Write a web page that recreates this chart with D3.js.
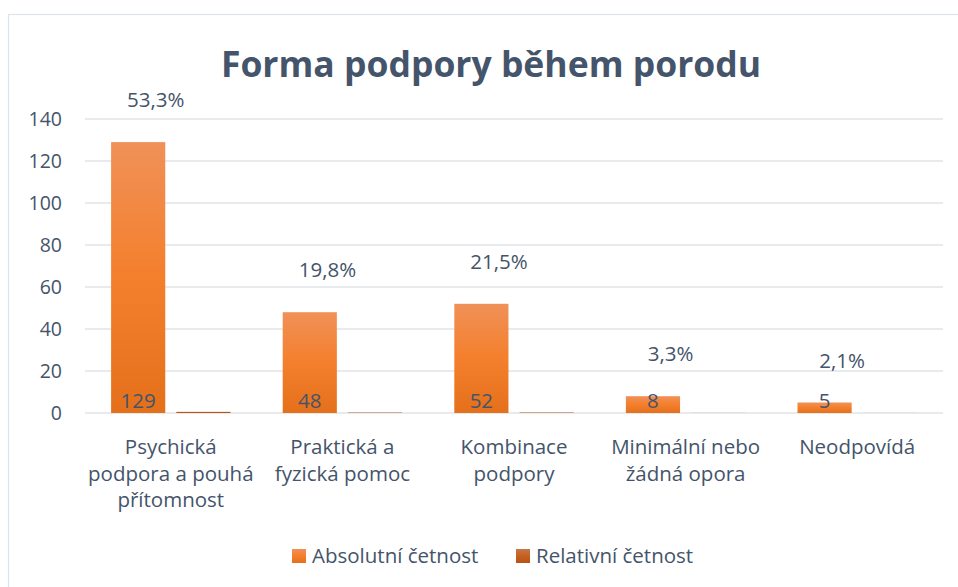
<!DOCTYPE html>
<html>
<head>
<meta charset="utf-8">
<script src="https://cdn.jsdelivr.net/npm/d3@7"></script>
<style>
  body { margin: 0; background: #fff; }
  svg { display: block; font-family: "Open Sans", sans-serif; }
</style>
</head>
<body>
<div id="chart"></div>
<script>
// Chart data
const categories = [
    "Psychická podpora a pouhá přítomnost",
    "Praktická a fyzická pomoc",
    "Kombinace podpory",
    "Minimální nebo žádná opora",
    "Neodpovídá"
];
// wrapped labels, as they appear under the axis
const categoryLines = [
    ["Psychická", "podpora a pouhá", "přítomnost"],
    ["Praktická a", "fyzická pomoc"],
    ["Kombinace", "podpory"],
    ["Minimální nebo", "žádná opora"],
    ["Neodpovídá"]
];
const absolute = [129, 48, 52, 8, 5];
const relative = [0.533, 0.198, 0.215, 0.033, 0.021];
const relativeLabels = ["53,3%", "19,8%", "21,5%", "3,3%", "2,1%"];
const yTicks = [0, 20, 40, 60, 80, 100, 120, 140];
const seriesNames = ["Absolutní četnost", "Relativní četnost"];

const width = 958, height = 587;
const margin = { top: 119, right: 15, bottom: 174, left: 85 };
const w = width - margin.left - margin.right;
const h = height - margin.top - margin.bottom;
const textColor = "#44546a";
const fontSize = "20.5px";

const svg = d3.select("#chart").append("svg")
    .attr("width", width)
    .attr("height", height);

// gradients for the bars
const defs = svg.append("defs");
function addGradient(id, stops) {
    const g = defs.append("linearGradient")
        .attr("id", id)
        .attr("x1", 0).attr("y1", 0).attr("x2", 0).attr("y2", 1);
    stops.forEach(s => g.append("stop").attr("offset", s[0]).attr("stop-color", s[1]));
}
addGradient("grad-abs", [[0, "#f09158"], [0.5, "#f47f2c"], [1, "#e4701c"]]);
addGradient("grad-rel", [[0, "#c9764a"], [0.5, "#c4611f"], [1, "#b85414"]]);

// outer frame
svg.append("rect")
    .attr("x", 8.5).attr("y", 14.5)
    .attr("width", width + 10).attr("height", height + 10)
    .attr("fill", "none")
    .attr("stroke", "#dde3ec")
    .attr("stroke-width", 1.2);

// Title
svg.append("text")
    .attr("x", 491)
    .attr("y", 77)
    .attr("text-anchor", "middle")
    .attr("fill", textColor)
    .style("font-size", "35.5px")
    .style("font-weight", 700)
    .text("Forma podpory během porodu");

const g = svg.append("g")
    .attr("transform", "translate(" + margin.left + "," + margin.top + ")");

const x0 = d3.scaleBand()
    .domain(categories)
    .range([0, w])
    .padding(0);

const x1 = d3.scaleBand()
    .domain(seriesNames)
    .range([0, x0.bandwidth()])
    .paddingInner(0.17)
    .paddingOuter(0.4);

const y = d3.scaleLinear()
    .domain([0, 140])
    .range([h, 0]);

// gridlines
g.append("g")
    .selectAll("line")
    .data(yTicks)
    .join("line")
    .attr("x1", 0)
    .attr("x2", w)
    .attr("y1", d => y(d))
    .attr("y2", d => y(d))
    .attr("stroke", "#e0e3e8")
    .attr("stroke-width", 1.6);

// Y axis
const yAxis = g.append("g")
    .call(d3.axisLeft(y).tickValues(yTicks).tickSize(0).tickPadding(23));
yAxis.select(".domain").remove();
yAxis.selectAll("text")
    .attr("fill", textColor)
    .style("font-size", "19.5px")
    .style("font-family", "'Open Sans', sans-serif");

const rows = categories.map((c, i) => ({
    cat: c, abs: absolute[i], rel: relative[i], relLabel: relativeLabels[i], lines: categoryLines[i]
}));

// bars, absolute
g.append("g")
    .selectAll("rect")
    .data(rows)
    .join("rect")
    .attr("x", d => x0(d.cat) + x1(seriesNames[0]))
    .attr("y", d => y(d.abs))
    .attr("width", x1.bandwidth())
    .attr("height", d => h - y(d.abs))
    .attr("fill", "url(#grad-abs)");

// bars, relative (fractions on the same axis, so nearly flat)
g.append("g")
    .selectAll("rect")
    .data(rows)
    .join("rect")
    .attr("x", d => x0(d.cat) + x1(seriesNames[1]))
    .attr("y", d => y(d.rel))
    .attr("width", x1.bandwidth())
    .attr("height", d => h - y(d.rel))
    .attr("fill", "#b85414");

// labels inside base of absolute bars
g.append("g")
    .selectAll("text")
    .data(rows)
    .join("text")
    .attr("x", d => x0(d.cat) + x1(seriesNames[0]) + x1.bandwidth() / 2)
    .attr("y", h - 5)
    .attr("text-anchor", "middle")
    .attr("fill", textColor)
    .style("font-size", fontSize)
    .text(d => d.abs);

// relative labels, placed above the absolute bar
g.append("g")
    .selectAll("text")
    .data(rows)
    .join("text")
    .attr("x", d => x0(d.cat) + x0.bandwidth() / 2 - 15)
    .attr("y", d => y(d.abs) - 35)
    .attr("text-anchor", "middle")
    .attr("fill", textColor)
    .style("font-size", fontSize)
    .text(d => d.relLabel);

// X labels
const xl = g.append("g")
    .selectAll("text")
    .data(rows)
    .join("text")
    .attr("x", d => x0(d.cat) + x0.bandwidth() / 2)
    .attr("y", h + 41)
    .attr("text-anchor", "middle")
    .attr("fill", textColor)
    .style("font-size", fontSize);
xl.selectAll("tspan")
    .data(d => d.lines.map(l => ({ l: l, x: x0(d.cat) + x0.bandwidth() / 2 })))
    .join("tspan")
    .attr("x", d => d.x)
    .attr("dy", (d, i) => i === 0 ? 0 : 26.5)
    .text(d => d.l);

// Legend
const legendX = [292, 516];
const legendFill = ["url(#grad-abs)", "url(#grad-rel)"];
const legend = svg.append("g")
    .selectAll("g")
    .data(seriesNames)
    .join("g")
    .attr("transform", (d, i) => "translate(" + legendX[i] + ",549)");
legend.append("rect")
    .attr("width", 14)
    .attr("height", 14)
    .attr("fill", (d, i) => legendFill[i]);
legend.append("text")
    .attr("x", 20)
    .attr("y", 14)
    .attr("fill", textColor)
    .style("font-size", fontSize)
    .text(d => d);
</script>
</body>
</html>
